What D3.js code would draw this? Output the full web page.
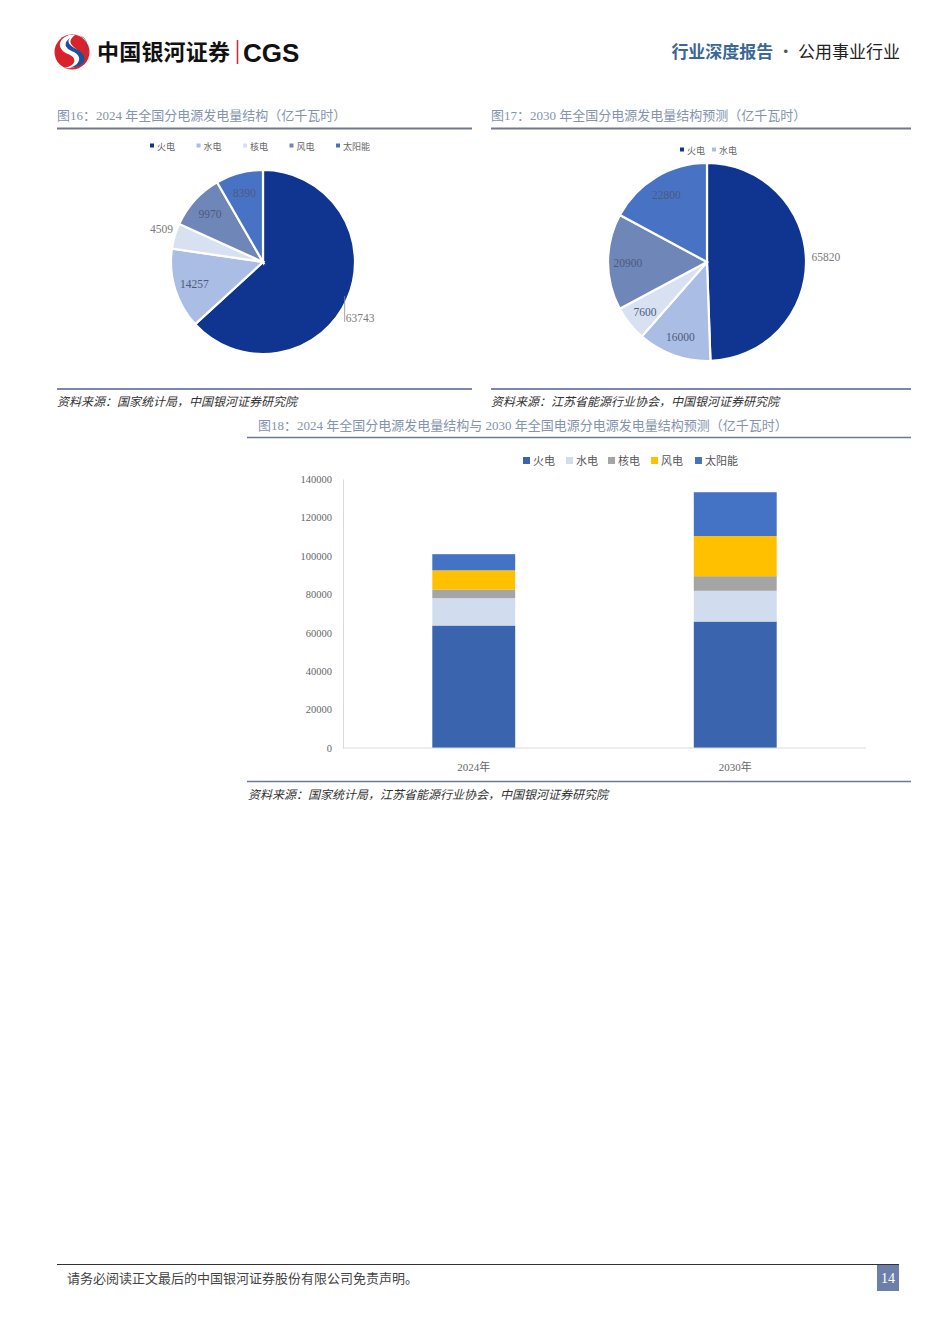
<!DOCTYPE html>
<html><head><meta charset="utf-8">
<script src="https://cdn.jsdelivr.net/npm/d3@7"></script>
<style>
html,body{margin:0;padding:0;background:#fff;}
svg{display:block;}
</style></head>
<body>
<svg id="page" width="945" height="1336"></svg>
<script>
// ---------------- data ----------------
const sources = ["火电","水电","核电","风电","太阳能"];
const values2024 = [63743, 14257, 4509, 9970, 8390];
const values2030 = [65820, 16000, 7600, 20900, 22800];
const pie17Legend = ["火电","水电"];
const barYears = ["2024年","2030年"];
const yTickValues = [0,20000,40000,60000,80000,100000,120000,140000];

const pieColors = ["#0f3590","#a9bde5","#d7e1f1","#6f86b8","#4873c5"];
const barColors = ["#3a64ae","#d1ddef","#a5a5a5","#ffc000","#4472c4"];

const serif = "'Liberation Serif','Noto Sans CJK SC',serif";
const cjk = "'Noto Sans CJK SC','Liberation Serif',sans-serif";

const svg = d3.select("#page");

// ---------------- header ----------------
const logo = svg.append("g").attr("transform","translate(72,52)");
logo.append("circle").attr("r",17.5).attr("fill","#d9232a");
logo.append("path").attr("d","M-3,-17 C-16,-12 -14,-2 -4,2 C6,6 4,14 -8,16 C6,18 16,8 8,0 C0,-6 -6,-10 3,-17 Z").attr("fill","#ffffff");
logo.append("path").attr("d","M4,-17.5 C16,-16 17,-6 12,-1 C18,-10 12,-16 4,-17.5 Z M-2,-14 C-10,-8 -6,-3 2,0 C10,4 9,12 -2,16 C18,14 14,2 6,-2 C-2,-6 -6,-10 -2,-14 Z").attr("fill","#1d4fa0");

svg.append("text").attr("x",97).attr("y",60).attr("font-family",cjk).attr("font-weight",700)
  .attr("font-size",22).attr("fill","#111").attr("textLength",133).text("中国银河证券");
svg.append("line").attr("x1",237.5).attr("x2",237.5).attr("y1",40).attr("y2",64).attr("stroke","#d9232a").attr("stroke-width",1.5);
svg.append("text").attr("x",243).attr("y",62).attr("font-family","'Liberation Sans',Arial,sans-serif").attr("font-weight",700)
  .attr("font-size",26).attr("fill","#111").text("CGS");

const hr = svg.append("text").attr("x",900).attr("y",58).attr("text-anchor","end").attr("font-family",cjk).attr("font-size",17);
hr.append("tspan").attr("fill","#3b6796").attr("font-weight",700).text("行业深度报告");
hr.append("tspan").attr("fill","#555").text(" · ");
hr.append("tspan").attr("fill","#222").text("公用事业行业");

// ---------------- figure titles / rules ----------------
function title(x, y, txt){
  svg.append("text").attr("x",x).attr("y",y).attr("font-family",serif).attr("font-size",13)
    .attr("fill","#8593ad").text(txt);
}
function rule(x1,x2,y,c,w){
  svg.append("line").attr("x1",x1).attr("x2",x2).attr("y1",y).attr("y2",y).attr("stroke",c).attr("stroke-width",w);
}
function source(x,y,txt){
  svg.append("text").attr("x",x).attr("y",y).attr("font-family",cjk).attr("font-size",12)
    .attr("font-style","italic").attr("fill","#333").text(txt);
}
title(57,120,"图16：2024 年全国分电源发电量结构（亿千瓦时）");
rule(57,472,128.5,"#6e7890",2);
title(491,120,"图17：2030 年全国分电源发电量结构预测（亿千瓦时）");
rule(491,911,128.5,"#6e7890",2);
rule(57,472,389,"#7d88a8",2);
source(57,406,"资料来源：国家统计局，中国银河证券研究院");
rule(491,911,389,"#7d88a8",2);
source(491,406,"资料来源：江苏省能源行业协会，中国银河证券研究院");

// ---------------- pies ----------------
function drawPie(opts){
  const g = svg.append("g").attr("transform",`translate(${opts.cx},${opts.cy})`);
  const data = opts.values.map((v,i)=>({name:sources[i], value:v, i}));
  const arcs = d3.pie().sort(null).value(d=>d.value)(data);
  const arc = d3.arc().innerRadius(0).outerRadius(opts.r);
  g.selectAll("path").data(arcs).join("path")
    .attr("d",arc).attr("fill",d=>pieColors[d.data.i])
    .attr("stroke","#fff").attr("stroke-width",2.2);
  const inner = d3.arc().innerRadius(opts.r*opts.inR).outerRadius(opts.r*opts.inR);
  const outer = d3.arc().innerRadius(opts.r*opts.outR).outerRadius(opts.r*opts.outR);
  arcs.forEach(a=>{
    const isOut = opts.outside.includes(a.data.i);
    const [x,y] = (isOut?outer:inner).centroid(a);
    const t = g.append("text").attr("x",x).attr("y",y).attr("dy",isOut?"0.1em":"0.4em")
      .attr("text-anchor","middle").attr("font-family",serif).attr("font-size",11.5)
      .attr("fill",isOut?"#7a7a7a":"#4d5a7c").text(a.data.value);
    if(opts.leader !== undefined && a.data.i===opts.leader){
      const [lx,ly] = d3.arc().innerRadius(opts.r*0.97).outerRadius(opts.r*0.97).centroid(a);
      const ax = lx, ay = ly+24;
      g.append("path").attr("d",`M${lx},${ly-2} L${ax},${ay}`).attr("stroke","#8a8a8a").attr("fill","none").attr("stroke-width",0.8);
      t.attr("x",ax+1).attr("y",ay-4).attr("dy","0.35em").attr("text-anchor","start");
    }
  });
}
drawPie({cx:263, cy:262, r:92, values:values2024, outside:[0,2], leader:0, inR:0.78, outR:1.15});
drawPie({cx:707, cy:262, r:99, values:values2030, outside:[0], inR:0.8, outR:1.2});

// pie legends
function pieLegend(items, x0, step, y){
  const g = svg.append("g");
  items.forEach((name,k)=>{
    const i = sources.indexOf(name);
    g.append("rect").attr("x",x0+k*step).attr("y",y-3.5).attr("width",4).attr("height",4).attr("fill",pieColors[i]);
    g.append("text").attr("x",x0+k*step+7).attr("y",y).attr("dy","0.35em").attr("font-family",serif)
      .attr("font-size",9).attr("fill","#666").text(name);
  });
}
pieLegend(sources, 150, 46.5, 147);
pieLegend(pie17Legend, 680, 32, 151);

// ---------------- figure 18: stacked bars ----------------
title(258,430,"图18：2024 年全国分电源发电量结构与 2030 年全国电源分电源发电量结构预测（亿千瓦时）");
rule(247,911,437.5,"#6e7890",1.6);

const plot = {left:343, right:866, top:479, bottom:748};
const x = d3.scaleBand().domain(barYears).range([plot.left, plot.right]).paddingInner(0.683).paddingOuter(0.3415);
const y = d3.scaleLinear().domain([0,140000]).range([plot.bottom, plot.top]);

const barRows = barYears.map((yr,k)=>{
  const row = {year:yr};
  sources.forEach((s,i)=>row[s] = (k===0?values2024:values2030)[i]);
  return row;
});
const stacked = d3.stack().keys(sources)(barRows);

// axes
const yAxis = svg.append("g").attr("transform",`translate(${plot.left},0)`)
  .call(d3.axisLeft(y).tickValues(yTickValues).tickSize(0).tickPadding(11).tickFormat(d3.format("d")));
yAxis.select(".domain").attr("stroke","#d9d9d9");
yAxis.selectAll("text").attr("font-family",serif).attr("font-size",10.5).attr("fill","#666");

svg.append("g").selectAll("g").data(stacked).join("g")
  .attr("fill",(d,i)=>barColors[i])
  .selectAll("rect").data(d=>d).join("rect")
  .attr("x",d=>x(d.data.year)).attr("width",x.bandwidth())
  .attr("y",d=>y(d[1])).attr("height",d=>y(d[0])-y(d[1]));

const xAxis = svg.append("g").attr("transform",`translate(0,${plot.bottom})`)
  .call(d3.axisBottom(x).tickSize(0).tickPadding(15));
xAxis.select(".domain").attr("stroke","#d9d9d9").attr("d",`M${plot.left},0H${plot.right}`);
xAxis.selectAll("text").attr("font-family",serif).attr("font-size",11).attr("fill","#666");

// bar legend
const bl = svg.append("g");
const blx = [523,566,608,651,695];
sources.forEach((s,i)=>{
  bl.append("rect").attr("x",blx[i]).attr("y",457).attr("width",7).attr("height",7).attr("fill",barColors[i]);
  bl.append("text").attr("x",blx[i]+10).attr("y",461).attr("dy","0.35em").attr("font-family",serif)
    .attr("font-size",11).attr("fill","#555").text(s);
});

rule(247,911,781.5,"#6e7890",1.6);
source(248,799,"资料来源：国家统计局，江苏省能源行业协会，中国银河证券研究院");

// ---------------- footer ----------------
rule(57,899,1264.5,"#333",1.2);
svg.append("text").attr("x",67).attr("y",1283).attr("font-family",cjk).attr("font-size",13)
  .attr("fill","#444").text("请务必阅读正文最后的中国银河证券股份有限公司免责声明。");
svg.append("rect").attr("x",877).attr("y",1265).attr("width",22).attr("height",26).attr("fill","#6c7fab");
svg.append("text").attr("x",888).attr("y",1283).attr("text-anchor","middle").attr("font-family",serif)
  .attr("font-size",14).attr("fill","#fff").text("14");
</script>
</body></html>
